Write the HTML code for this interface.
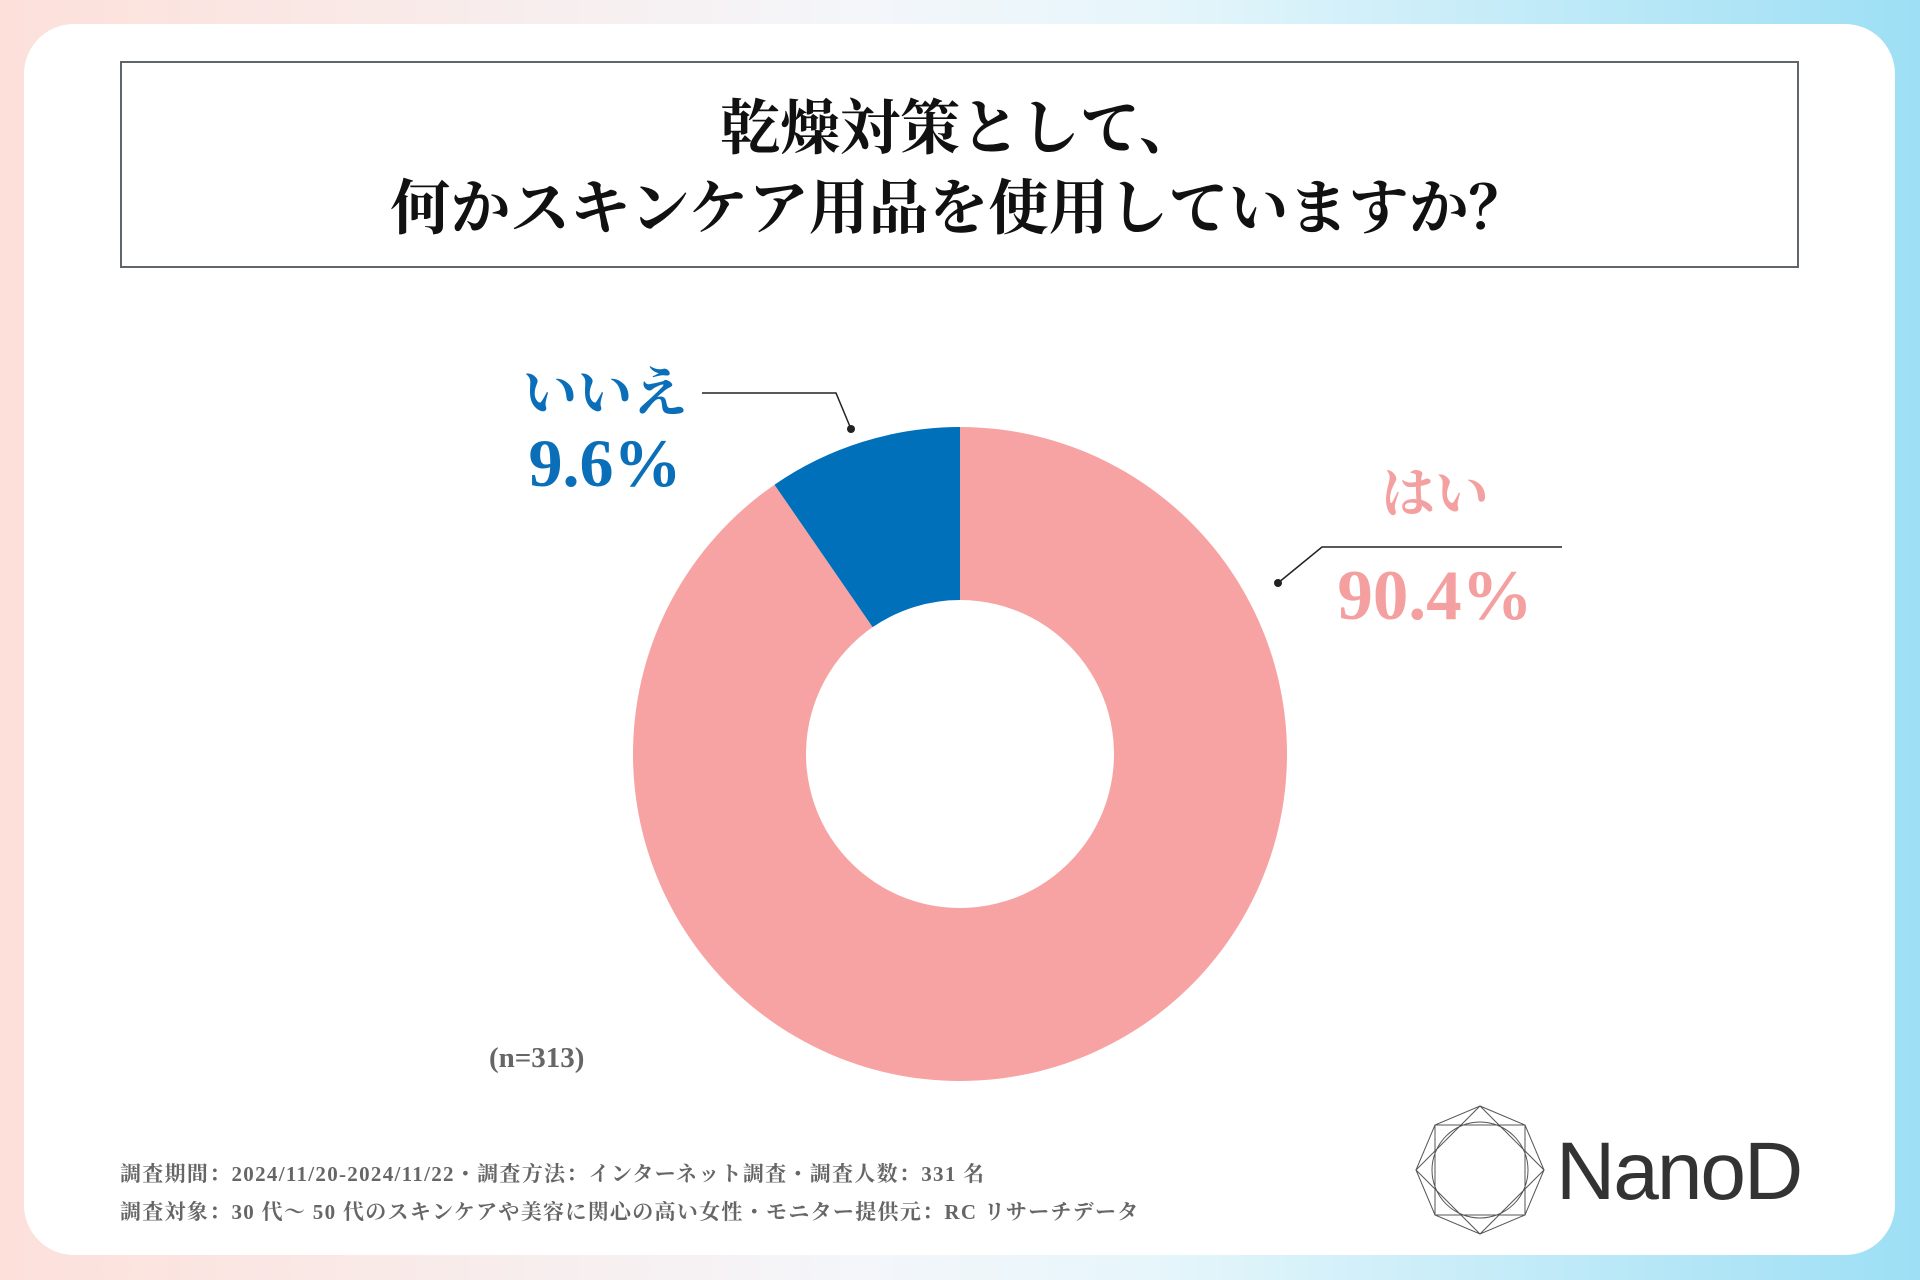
<!DOCTYPE html>
<html><head><meta charset="utf-8">
<style>
html,body{margin:0;padding:0}
body{width:1920px;height:1280px;position:relative;overflow:hidden;background:linear-gradient(90deg,#fde0da 0%,#f4f6fa 45%,#e6f6fb 60%,#9ddff5 100%);font-family:"Liberation Serif","Noto Serif CJK SC",serif}
.card{position:absolute;left:24px;top:24px;width:1871px;height:1231px;background:#fff;border-radius:50px}
.title{position:absolute;left:120px;top:61px;width:1679px;height:207px;border:2px solid #5f666b;box-sizing:border-box;text-align:center;font-weight:bold;font-size:60px;line-height:80px;padding-top:26px;color:#111}
.abs{position:absolute;white-space:nowrap}
</style></head><body>
<div class="card"></div>
<div class="title">乾燥対策として、<br>何かスキンケア用品を使用していますか？</div>
<svg class="abs" style="left:0;top:0" width="1920" height="1280">
<g id="pie"></g>
<polyline points="702,393 836,393 851,429" fill="none" stroke="#222" stroke-width="1.5"/>
<circle cx="851" cy="429" r="4" fill="#222"/>
<polyline points="1278,583 1322,547 1562,547" fill="none" stroke="#222" stroke-width="1.5"/>
<circle cx="1278" cy="583" r="4" fill="#222"/>
</svg>
<div class="abs" style="left:505px;top:364px;width:200px;text-align:center;color:#0a6fb8;font-weight:bold;font-size:55px;line-height:60px">いいえ</div>
<div class="abs" style="left:495px;top:426px;width:220px;text-align:center;color:#0a6fb8;font-weight:bold;font-size:68px;line-height:74px">9.6%</div>
<div class="abs" style="left:1350px;top:464px;width:170px;text-align:center;color:#f4a0a0;font-weight:bold;font-size:54px;line-height:60px">はい</div>
<div class="abs" style="left:1305px;top:558px;width:260px;text-align:center;color:#f4a0a0;font-weight:bold;font-size:71px;line-height:76px">90.4%</div>
<div class="abs" style="left:489px;top:1042px;color:#666;font-weight:bold;font-size:29px">(n=313)</div>
<div class="abs" style="left:120px;top:1158px;color:#666;font-weight:bold;font-size:21px;letter-spacing:1.3px">調査期間：2024/11/20-2024/11/22・調査方法：インターネット調査・調査人数：331 名</div>
<div class="abs" style="left:120px;top:1196px;color:#666;font-weight:bold;font-size:21px;letter-spacing:1.3px">調査対象：30 代～ 50 代のスキンケアや美容に関心の高い女性・モニター提供元：RC リサーチデータ</div>
<svg class="abs" style="left:1410px;top:1100px" width="140" height="140">
<g fill="none" stroke="#555" stroke-width="1">
<polygon points="70,6 115,25 134,70 115,115 70,134 25,115 6,70 25,25"/>
<polygon points="70,6 134,70 70,134 6,70"/>
<polygon points="25,25 115,25 115,115 25,115"/>
<circle cx="70" cy="70" r="48"/>
</g></svg>
<div class="abs" style="left:1556px;top:1125px;font-family:'Liberation Sans',sans-serif;font-size:82px;color:#333;font-weight:normal;letter-spacing:-2px">NanoD</div>
<script>
const categories=["はい","いいえ"];
const values=[90.4,9.6];
const colors=["#f7a3a3","#0070bb"];
const cx=960,cy=754,R=327,r=154;
const g=document.getElementById('pie');
function pt(a,rad){return [cx+rad*Math.sin(a),cy-rad*Math.cos(a)];}
const total=values.reduce((a,b)=>a+b,0);
let start=0;
values.forEach((v,i)=>{
  const end=start+v/total*2*Math.PI;
  const large=(end-start)>Math.PI?1:0;
  const [x1,y1]=pt(start,R),[x2,y2]=pt(end,R),[x3,y3]=pt(end,r),[x4,y4]=pt(start,r);
  const p=document.createElementNS('http://www.w3.org/2000/svg','path');
  p.setAttribute('d',`M${x1},${y1}A${R},${R} 0 ${large} 1 ${x2},${y2}L${x3},${y3}A${r},${r} 0 ${large} 0 ${x4},${y4}Z`);
  p.setAttribute('fill',colors[i]);
  
  
  g.appendChild(p);
  start=end;
});
</script>
</body></html>
